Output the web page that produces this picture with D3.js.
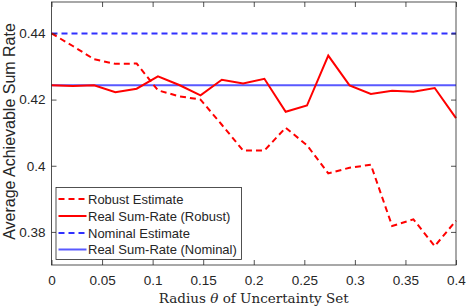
<!DOCTYPE html>
<html>
<head>
<meta charset="utf-8">
<script src="https://cdn.jsdelivr.net/npm/d3@7"></script>
<style>
  body { margin: 0; background: #fff; }
  svg { display: block; }
  text { fill: #262626; }
</style>
</head>
<body>
<svg></svg>
<script>
//* Data: 20 radius values from 0 to 0.4
const radius = d3.range(20).map(i => i * 0.4 / 19);

const robustEstimate = [
  0.4400, 0.4362, 0.4322, 0.4308, 0.4309, 0.4228, 0.4210, 0.4200, 0.4124, 0.4046,
  0.4046, 0.4115, 0.4062, 0.3977, 0.3994, 0.4003, 0.3818, 0.3838, 0.3757, 0.3834];

const realRobust = [
  0.4243, 0.4241, 0.4243, 0.4222, 0.4233, 0.4270, 0.4244, 0.4213, 0.4260, 0.4249,
  0.4263, 0.4163, 0.4182, 0.4333, 0.4243, 0.4217, 0.4227, 0.4224, 0.4235, 0.4144];

const nominalEstimate = 0.4400;
const realNominal = 0.4243;

const xTicks = [0, 0.05, 0.1, 0.15, 0.2, 0.25, 0.3, 0.35, 0.4];
const yTicks = [0.38, 0.40, 0.42, 0.44];

const legendLabels = [
  "Robust Estimate",
  "Real Sum-Rate (Robust)",
  "Nominal Estimate",
  "Real Sum-Rate (Nominal)"];

const width = 466;
const height = 308;
const margin = {top: 2, right: 10, bottom: 43, left: 51.5};

const svg = d3.select("svg")
  .attr("width", width)
  .attr("height", height);

const x = d3.scaleLinear()
  .domain([0, 0.4])
  .range([margin.left, width - margin.right]);

const y = d3.scaleLinear()
  .domain([0.37, 0.4495])
  .range([height - margin.bottom, margin.top]);

const axisColor = "#262626";
const font = "'Liberation Sans', Arial, Helvetica, sans-serif";

// Lines
const series = [
  {values: robustEstimate, color: "#ff0000", dash: "6,4"},
  {values: realRobust, color: "#ff0000", dash: null},
  {values: radius.map(() => nominalEstimate), color: "#3030ff", dash: "6,4"},
  {values: radius.map(() => realNominal), color: "#3030ff", dash: null}
];

const line = d3.line()
  .x((d, i) => x(radius[i]))
  .y(d => y(d));

const plot = svg.append("g");

// Draw nominal lines first, then robust ones on top (red sits above blue in the figure)
[3, 2, 1, 0].forEach(k => {
  const s = series[k];
  plot.append("path")
    .datum(s.values)
    .attr("fill", "none")
    .attr("stroke", s.color)
    .attr("stroke-width", 2)
    .attr("stroke-opacity", k === 3 ? 0.8 : 1)
    .attr("stroke-dasharray", s.dash)
    .attr("d", line);
});

// Axes box with inward ticks on all four sides
const tickLen = 5;
const xAxisB = d3.axisBottom(x).tickValues(xTicks).tickSizeInner(-tickLen).tickSizeOuter(0)
  .tickPadding(10).tickFormat(d => d3.format("~g")(d));
const xAxisT = d3.axisTop(x).tickValues(xTicks).tickSizeInner(-tickLen).tickSizeOuter(0)
  .tickFormat("");
const yAxisL = d3.axisLeft(y).tickValues(yTicks).tickSizeInner(-tickLen).tickSizeOuter(0)
  .tickPadding(6).tickFormat(d => d3.format("~g")(d));
const yAxisR = d3.axisRight(y).tickValues(yTicks).tickSizeInner(-tickLen).tickSizeOuter(0)
  .tickFormat("");

function styleAxis(g) {
  g.select(".domain").remove();
  g.selectAll("line").attr("stroke", axisColor).attr("stroke-width", 0.8);
  g.selectAll("text").attr("font-family", font).attr("font-size", 13.5).attr("fill", axisColor);
}

svg.append("g").attr("transform", `translate(0,${height - margin.bottom})`).call(xAxisB).call(styleAxis);
svg.append("g").attr("transform", `translate(0,${margin.top})`).call(xAxisT).call(styleAxis);
svg.append("g").attr("transform", `translate(${margin.left},0)`).call(yAxisL).call(styleAxis);
svg.append("g").attr("transform", `translate(${width - margin.right},0)`).call(yAxisR).call(styleAxis);

svg.append("rect")
  .attr("x", margin.left)
  .attr("y", margin.top)
  .attr("width", width - margin.left - margin.right)
  .attr("height", height - margin.top - margin.bottom)
  .attr("fill", "none")
  .attr("stroke", axisColor)
  .attr("stroke-width", 0.8);

// Axis labels
const xLabel = svg.append("text")
  .attr("x", (margin.left + width - margin.right) / 2)
  .attr("y", 303)
  .attr("text-anchor", "middle")
  .attr("font-family", "'DejaVu Serif', 'Liberation Serif', serif")
  .attr("font-size", 13.5);
xLabel.append("tspan").text("Radius ");
xLabel.append("tspan").attr("font-style", "italic").text("θ");
xLabel.append("tspan").text(" of Uncertainty Set");

svg.append("text")
  .attr("transform", `translate(14.5,${(margin.top + height - margin.bottom) / 2 - 2}) rotate(-90)`)
  .attr("text-anchor", "middle")
  .attr("font-family", font)
  .attr("font-size", 16)
  .text("Average Achievable Sum Rate");

// Legend
const legend = svg.append("g").attr("transform", "translate(56,187.5)");
legend.append("rect")
  .attr("width", 185.5)
  .attr("height", 72)
  .attr("fill", "#fff")
  .attr("stroke", axisColor)
  .attr("stroke-width", 0.8);

const legendY = [11.5, 28.5, 45.5, 62];
legendLabels.forEach((label, i) => {
  const s = series[i];
  legend.append("line")
    .attr("x1", 2.5).attr("x2", 30.5)
    .attr("y1", legendY[i]).attr("y2", legendY[i])
    .attr("stroke", s.color)
    .attr("stroke-width", 2)
    .attr("stroke-opacity", i === 3 ? 0.8 : 1)
    .attr("stroke-dasharray", s.dash);
  legend.append("text")
    .attr("x", 32)
    .attr("y", legendY[i])
    .attr("dy", "0.35em")
    .attr("font-family", font)
    .attr("font-size", 13)
    .attr("fill", "#000")
    .text(label);
});
</script>
</body>
</html>
